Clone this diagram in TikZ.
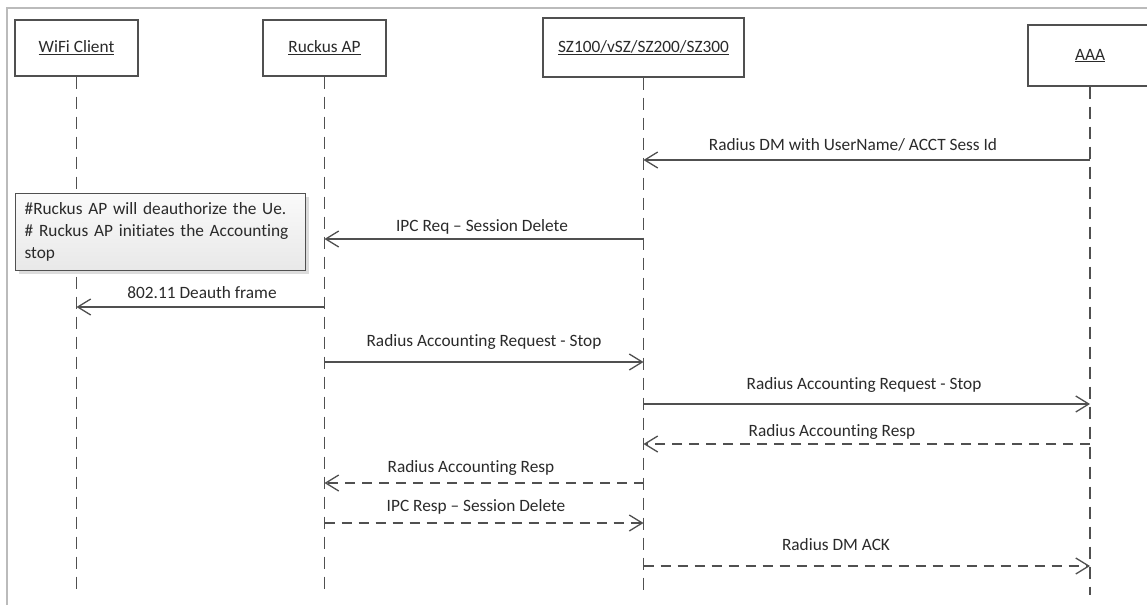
\documentclass[tikz,border=0pt]{standalone}
\usepackage{fontspec}
\setmainfont{Carlito}[Ligatures=NoCommon]
\usetikzlibrary{arrows.meta,shadows}
\definecolor{ln}{HTML}{505050}
\definecolor{txt}{HTML}{2A2A2A}
\definecolor{frame}{HTML}{BBBBBB}
\begin{document}
\begin{tikzpicture}[x=1pt,y=-1pt,
  every node/.style={font=\fontsize{17.3}{20}\selectfont, text=txt},
  head/.style={draw=ln, line width=1.3pt, fill=white, inner sep=0pt},
  life/.style={draw=ln, line width=1.3pt, dash pattern=on 12pt off 8pt},
  msg/.style={draw=ln, line width=1.3pt, -{Straight Barb[length=13pt,width=16pt]}},
  ret/.style={msg, dash pattern=on 10pt off 7pt},
  lbl/.style={inner sep=0pt},
  note/.style={draw=ln, line width=1.3pt, top color=gray!4, bottom color=gray!18,
    drop shadow={shadow xshift=3pt, shadow yshift=-3pt, fill=gray!55},
    align=left, inner xsep=9pt, inner ysep=0pt, font=\fontsize{17.3}{22}\selectfont},
  border/.style={draw=frame, line width=1.2pt}
]
\useasboundingbox (0,0) rectangle (1147,605);
\clip (0,0) rectangle (1147,605);

% frame
\draw[border] (7,605) -- (7,8) -- (1147,8);

% heads
\node[head, minimum width=123pt, minimum height=56pt] (wifi) at (76.5,48) {\underline{WiFi Client}};
\node[head, minimum width=123pt, minimum height=56pt] (ap) at (324.5,48) {\underline{Ruckus AP}};
\node[head, minimum width=201pt, minimum height=59pt] (sz) at (643.5,47.5) {\underline{SZ100/vSZ/SZ200/SZ300}};
\node[head, minimum width=124pt, minimum height=61pt] (aaa) at (1090,55.5) {\underline{AAA}};

% lifelines
\coordinate (bot) at (0,595);
\draw[life] (wifi.south) -- (wifi.south |- bot);
\draw[life] (ap.south) -- (ap.south |- bot);
\draw[life] (sz.south) -- (sz.south |- bot);
\draw[life] (aaa.south) -- (aaa.south |- bot);

% message rows
\coordinate (m1) at (0,160);
\coordinate (m2) at (0,239);
\coordinate (m3) at (0,307);
\coordinate (m4) at (0,362);
\coordinate (m5) at (0,404);
\coordinate (m6) at (0,444);
\coordinate (m7) at (0,483);
\coordinate (m8) at (0,523);
\coordinate (m9) at (0,566);

% note
\node[note, anchor=north west, minimum width=290pt, minimum height=77pt, text width=272pt] (nt) at (15,193)
  {\#Ruckus AP will deauthorize the Ue.\\\# Ruckus AP initiates the Accounting\\stop};

% messages
\draw[msg] (aaa |- m1) -- (sz |- m1);
\node[lbl] (l1) at (853,145) {Radius DM with UserName/ ACCT Sess Id};

\draw[msg] (sz |- m2) -- (ap |- m2);
\node[lbl] (l2) at (482,227) {IPC Req -- Session Delete};

\draw[msg] (ap |- m3) -- (wifi |- m3);
\node[lbl] (l3) at (202,293) {802.11 Deauth frame};

\draw[msg] (ap |- m4) -- (sz |- m4);
\node[lbl] (l4) at (484,342) {Radius Accounting Request - Stop};

\draw[msg] (sz |- m5) -- (aaa |- m5);
\node[lbl] (l5) at (864,385) {Radius Accounting Request - Stop};

\draw[ret] (aaa |- m6) -- (sz |- m6);
\node[lbl] (l6) at (832,432) {Radius Accounting Resp};

\draw[ret] (sz |- m7) -- (ap |- m7);
\node[lbl] (l7) at (471,468) {Radius Accounting Resp};

\draw[ret] (ap |- m8) -- (sz |- m8);
\node[lbl] (l8) at (476,507) {IPC Resp -- Session Delete};

\draw[ret] (sz |- m9) -- (aaa |- m9);
\node[lbl] (l9) at (836,545) {Radius DM ACK};
\end{tikzpicture}
\end{document}
